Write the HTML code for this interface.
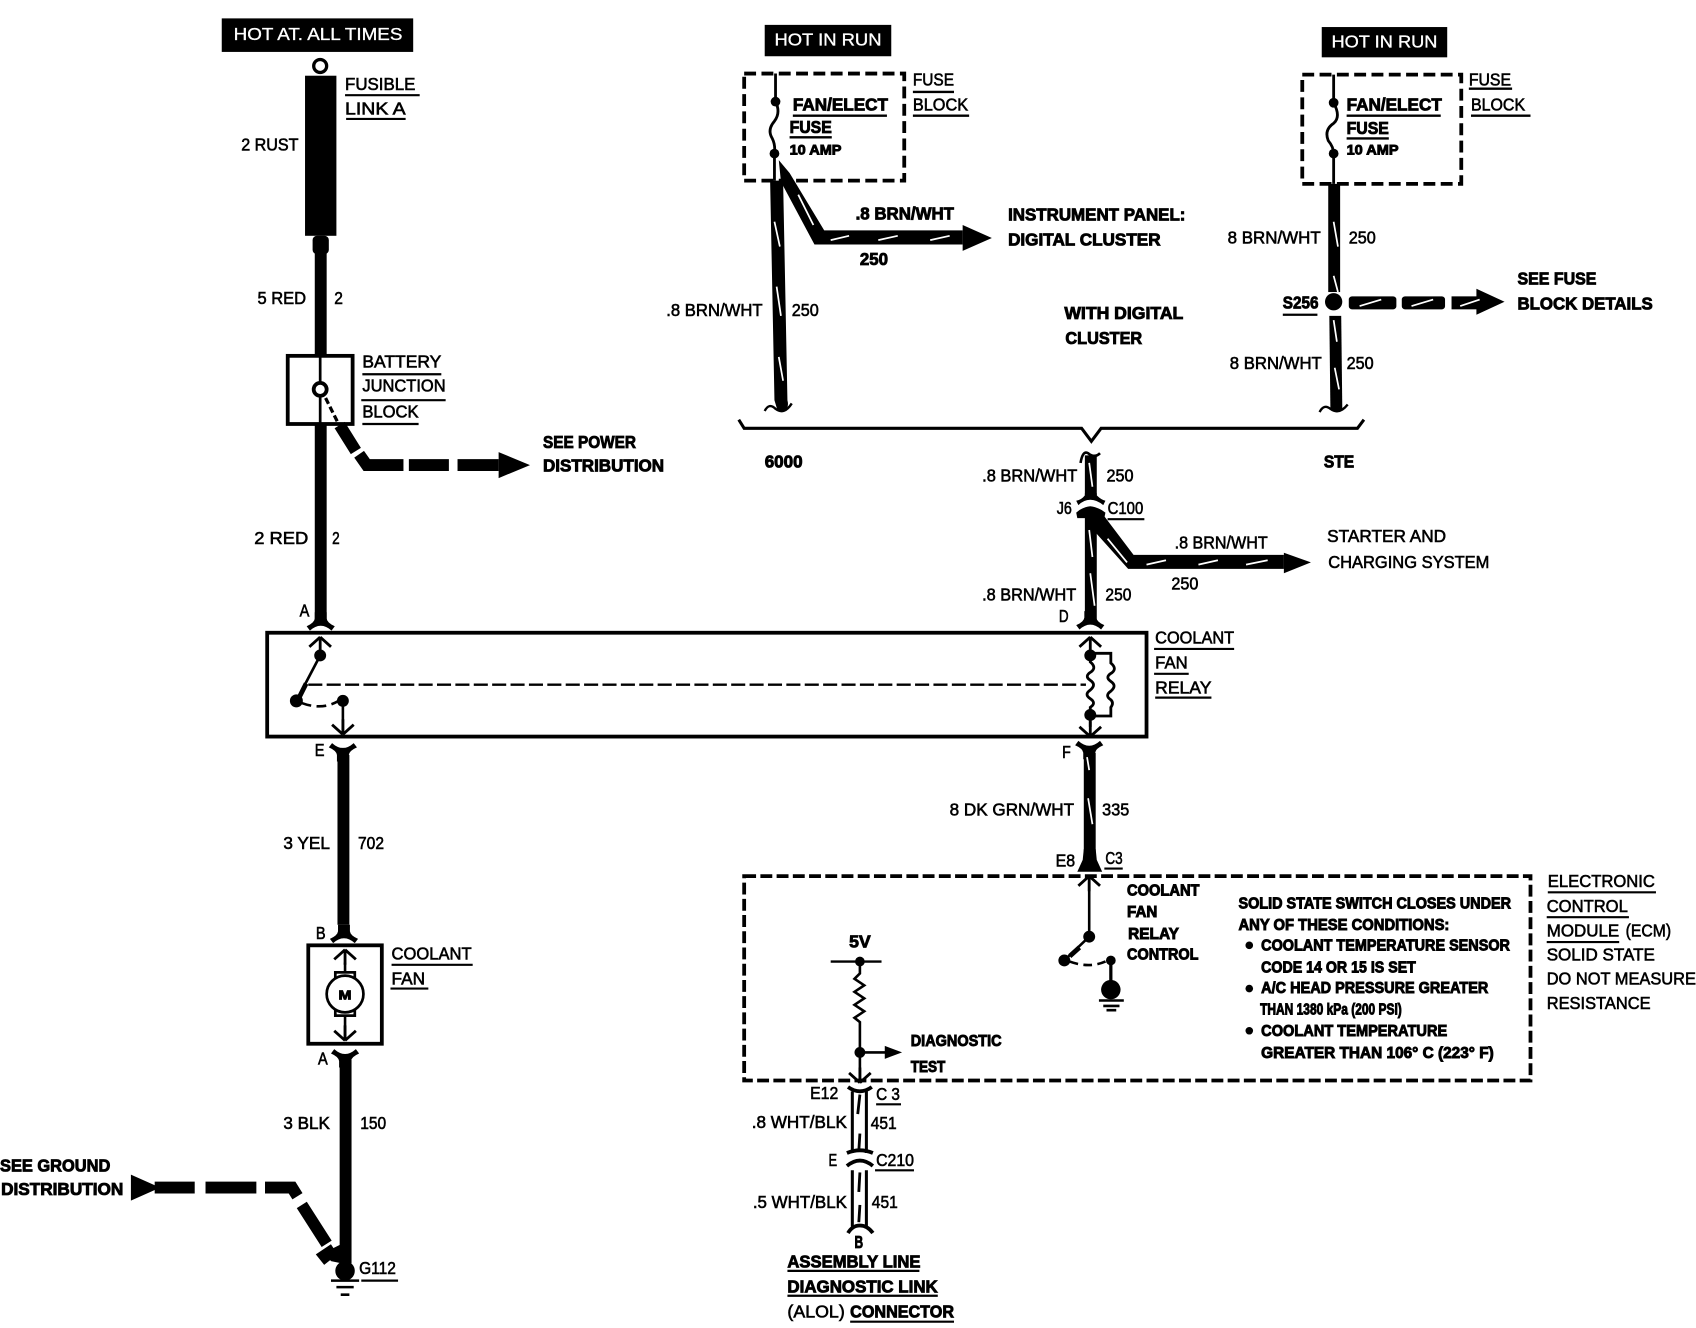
<!DOCTYPE html>
<html><head><meta charset="utf-8"><title>Coolant fan wiring diagram</title>
<style>
html,body{margin:0;padding:0;background:#fff;width:1696px;height:1328px;overflow:hidden}
svg{display:block}
text{font-family:"Liberation Sans",sans-serif;font-size:16px;fill:#000;font-weight:normal;stroke:#000;stroke-width:.55}
.b{font-weight:bold;stroke-width:.8}
.s{font-size:14.500px;font-weight:bold;stroke-width:.85}
.w{fill:#fff;stroke:#fff;stroke-width:.3}
.ln{stroke:#000;fill:none}
.st{stroke:#fff;stroke-width:1.600;fill:none}
</style></head><body>
<svg xmlns="http://www.w3.org/2000/svg" width="1696" height="1328" viewBox="0 0 1568 1227.8">
<defs>
<path id="fd" d="M-5.5,-10 L-5.5,-4 Q-6,0 -13,3 L-10,7 Q-5,2.500 0,2.500 Q5,2.500 10,7 L13,3 Q6,0 5.500,-4 L5.500,-10Z"/>
<path id="fu" d="M-5.5,10 L-5.500,4 Q-6,0 -13,-3 L-10,-7 Q-5,-2.500 0,-2.500 Q5,-2.500 10,-7 L13,-3 Q6,0 5.500,4 L5.500,10Z"/>
<path id="cu" d="M0,0 L-10,9 M0,0 L10,9 M0,0 V14" fill="none" stroke="#000" stroke-width="2.600"/>
<path id="cd" d="M0,0 L-10,-9 M0,0 L10,-9 M0,0 V-14" fill="none" stroke="#000" stroke-width="2.600"/>
</defs>
<rect width="1568" height="1227.800" fill="#fff"/>

<!-- Left column -->
<rect x="205" y="17" width="177" height="31"/>
<text class="w" x="216" y="37" textLength="156" lengthAdjust="spacingAndGlyphs">HOT AT. ALL TIMES</text>
<circle cx="296" cy="61" r="6" class="ln" stroke-width="3"/>
<rect x="282" y="70" width="29" height="148"/>
<rect x="289" y="218" width="15" height="17" rx="4"/>
<rect x="291" y="230" width="11" height="100"/>
<text x="319" y="83" textLength="65" lengthAdjust="spacingAndGlyphs">FUSIBLE</text>
<path class="ln" stroke-width="2" d="M319,88H388M320,110H375"/>
<text x="319" y="106" textLength="56" lengthAdjust="spacingAndGlyphs">LINK A</text>
<text x="223" y="139" textLength="53" lengthAdjust="spacingAndGlyphs">2 RUST</text>
<text x="238" y="281" textLength="45" lengthAdjust="spacingAndGlyphs">5 RED</text>
<text x="309" y="281" textLength="8" lengthAdjust="spacingAndGlyphs">2</text>
<rect x="266" y="329" width="60" height="63" fill="#fff" stroke="#000" stroke-width="3.500"/>
<path class="ln" stroke-width="2.500" d="M296,329V353M296,367V392"/>
<circle cx="296" cy="360" r="6" fill="#fff" stroke="#000" stroke-width="3.500"/>
<path class="ln" stroke-width="3" d="M301,368L312,390" stroke-dasharray="6 3"/>
<text x="335" y="340" textLength="73" lengthAdjust="spacingAndGlyphs">BATTERY</text>
<text x="335" y="362" textLength="77" lengthAdjust="spacingAndGlyphs">JUNCTION</text>
<text x="335" y="386" textLength="52" lengthAdjust="spacingAndGlyphs">BLOCK</text>
<path class="ln" stroke-width="2" d="M335,346H408M334,370H412M335,392H387"/>
<path class="ln" stroke-width="11" d="M314,393L329,417M332,420L339,430H373M378,430H415M423,430H461"/>
<path d="M461,418L490,430L461,442Z"/>
<text class="b" x="502" y="414" textLength="86" lengthAdjust="spacingAndGlyphs">SEE POWER</text>
<text class="b" x="502" y="436" textLength="112" lengthAdjust="spacingAndGlyphs">DISTRIBUTION</text>
<rect x="291" y="392" width="11" height="183"/>
<text x="235" y="503" textLength="50" lengthAdjust="spacingAndGlyphs">2 RED</text>
<text x="307" y="503" textLength="7" lengthAdjust="spacingAndGlyphs">2</text>
<text x="277" y="570" textLength="9" lengthAdjust="spacingAndGlyphs">A</text>
<use href="#fd" x="296.500" y="576"/>

<!-- Relay -->
<rect x="247" y="585" width="813" height="96" fill="none" stroke="#000" stroke-width="3.500"/>
<use href="#cu" x="296" y="589"/>
<path class="ln" stroke-width="2.500" d="M296,603V606L274,648"/>
<path class="ln" stroke-width="4.500" d="M283,632L276,646"/>
<circle cx="296" cy="606" r="5.500"/><circle cx="274" cy="648" r="6"/>
<path class="ln" stroke-width="2.200" stroke-dasharray="13 4" d="M285,633H1004"/>
<path class="ln" stroke-width="2.400" stroke-dasharray="9 5" d="M279,650Q298,657 313,648"/>
<circle cx="317" cy="648" r="5.500"/>
<path class="ln" stroke-width="2.400" d="M317,650V678"/>
<use href="#cd" x="317" y="679"/>
<text x="291" y="699" textLength="9" lengthAdjust="spacingAndGlyphs">E</text>
<use href="#fu" x="317" y="694"/>
<rect x="312" y="698" width="11" height="157"/>
<text x="262" y="785" textLength="43" lengthAdjust="spacingAndGlyphs">3 YEL</text>
<text x="331" y="785" textLength="24" lengthAdjust="spacingAndGlyphs">702</text>
<text x="292" y="868" textLength="9" lengthAdjust="spacingAndGlyphs">B</text>
<use href="#fd" x="318" y="865"/>

<!-- Motor -->
<rect x="285" y="874" width="68" height="91" fill="none" stroke="#000" stroke-width="3.500"/>
<use href="#cu" x="319" y="878"/>
<path class="ln" stroke-width="2.400" d="M319,890V905M319,934V961"/>
<rect x="310" y="899" width="18" height="8" fill="#fff" stroke="#000" stroke-width="2.500"/>
<rect x="310" y="931" width="18" height="8" fill="#fff" stroke="#000" stroke-width="2.500"/>
<circle cx="319" cy="919" r="17" fill="#fff" stroke="#000" stroke-width="2.500"/>
<text class="b" x="313" y="924" style="font-size:12px" textLength="12" lengthAdjust="spacingAndGlyphs">M</text>
<use href="#cd" x="319" y="962"/>
<text x="294" y="984" textLength="9" lengthAdjust="spacingAndGlyphs">A</text>
<use href="#fu" x="319" y="977"/>
<rect x="314" y="980" width="11" height="188"/>
<text x="362" y="887" textLength="74" lengthAdjust="spacingAndGlyphs">COOLANT</text>
<text x="362" y="910" textLength="31" lengthAdjust="spacingAndGlyphs">FAN</text>
<path class="ln" stroke-width="2" d="M362,892H437M361,914H396"/>
<text x="262" y="1044" textLength="43" lengthAdjust="spacingAndGlyphs">3 BLK</text>
<text x="333" y="1044" textLength="24" lengthAdjust="spacingAndGlyphs">150</text>
<text class="b" x="0" y="1083" textLength="102" lengthAdjust="spacingAndGlyphs">SEE GROUND</text>
<text class="b" x="1" y="1105" textLength="113" lengthAdjust="spacingAndGlyphs">DISTRIBUTION</text>
<path d="M121,1086L148,1098L121,1110Z"/>
<path class="ln" stroke-width="11" d="M143,1098H180M190,1098H237M245,1098H270L275,1106M279,1114L302,1150M309,1155L300,1161L304,1166"/>
<path d="M300,1158L316,1150L316,1168L306,1166Z"/>
<circle cx="319" cy="1175" r="9"/>
<path class="ln" stroke-width="2.400" d="M306,1184H332M311,1190H327M315,1197H323"/>
<text x="332" y="1178" textLength="34" lengthAdjust="spacingAndGlyphs">G112</text>
<path class="ln" stroke-width="2" d="M334,1184H368"/>

<!-- Left fuse block -->
<rect x="707" y="23" width="117" height="29"/>
<text class="w" x="716" y="42" textLength="99" lengthAdjust="spacingAndGlyphs">HOT IN RUN</text>
<rect x="688" y="68" width="148" height="99" fill="none" stroke="#000" stroke-width="3.500" stroke-dasharray="11 5"/>
<path class="ln" stroke-width="2.600" d="M717,68V94Q722,104 716,112Q709,120 714,128Q717,134 716,142V167"/>
<circle cx="717" cy="94" r="4.500"/><circle cx="716" cy="142" r="4.500"/>
<text class="b" x="733" y="102" textLength="88" lengthAdjust="spacingAndGlyphs">FAN/ELECT</text>
<text class="b" x="730" y="123" textLength="39" lengthAdjust="spacingAndGlyphs">FUSE</text>
<text class="s" x="730" y="143" textLength="48" lengthAdjust="spacingAndGlyphs" style="font-size:13px">10 AMP</text>
<path class="ln" stroke-width="2.200" d="M733,107H820M730,127H769"/>
<text x="844" y="79" textLength="38" lengthAdjust="spacingAndGlyphs">FUSE</text>
<text x="844" y="102" textLength="51" lengthAdjust="spacingAndGlyphs">BLOCK</text>
<path class="ln" stroke-width="2.200" d="M844,85H882M844,107H896"/>
<path d="M712,167H724L728,370Q730,378 724,380H719L716,370Z"/>
<path class="ln" stroke-width="2.200" d="M707,380Q711,372 717,378Q725,384 732,373"/>
<path class="st" d="M716,205L721,228M718,265L722,292M720,330L724,352"/>
<path d="M720,148L730,160L762,213H890V226H753L722,168Z"/>
<path d="M890,208L917,220L890,232Z"/>
<path class="st" d="M768,222L785,218M812,222L830,218M860,222L878,218M738,180L752,208"/>
<text class="b" x="791" y="203" textLength="91" lengthAdjust="spacingAndGlyphs">.8 BRN/WHT</text>
<text class="b" x="795" y="245" textLength="26" lengthAdjust="spacingAndGlyphs">250</text>
<text class="b" x="932" y="204" textLength="164" lengthAdjust="spacingAndGlyphs">INSTRUMENT PANEL:</text>
<text class="b" x="932" y="227" textLength="141" lengthAdjust="spacingAndGlyphs">DIGITAL CLUSTER</text>
<text class="b" x="984" y="295" textLength="110" lengthAdjust="spacingAndGlyphs">WITH DIGITAL</text>
<text class="b" x="985" y="318" textLength="71" lengthAdjust="spacingAndGlyphs">CLUSTER</text>
<text x="616" y="292" textLength="89" lengthAdjust="spacingAndGlyphs">.8 BRN/WHT</text>
<text x="732" y="292" textLength="25" lengthAdjust="spacingAndGlyphs">250</text>

<!-- Brace -->
<path class="ln" stroke-width="2.800" d="M683,388L688,396H1000L1009,408L1018,396H1255L1261,388"/>
<text class="b" x="707" y="432" textLength="35" lengthAdjust="spacingAndGlyphs">6000</text>
<text class="b" x="1224" y="432" textLength="28" lengthAdjust="spacingAndGlyphs">STE</text>

<!-- Right fuse block -->
<rect x="1222" y="25" width="116" height="28"/>
<text class="w" x="1231" y="44" textLength="98" lengthAdjust="spacingAndGlyphs">HOT IN RUN</text>
<rect x="1204" y="69" width="147" height="101" fill="none" stroke="#000" stroke-width="3.500" stroke-dasharray="11 5"/>
<path class="ln" stroke-width="2.600" d="M1233,69V95Q1240,108 1233,114Q1224,120 1228,130Q1233,136 1233,142V170"/>
<circle cx="1233" cy="95" r="4.500"/><circle cx="1233" cy="142" r="4.500"/>
<text class="b" x="1245" y="102" textLength="88" lengthAdjust="spacingAndGlyphs">FAN/ELECT</text>
<text class="b" x="1245" y="124" textLength="39" lengthAdjust="spacingAndGlyphs">FUSE</text>
<text class="s" x="1245" y="143" textLength="48" lengthAdjust="spacingAndGlyphs" style="font-size:13px">10 AMP</text>
<path class="ln" stroke-width="2.200" d="M1245,107H1332M1245,128H1284"/>
<text x="1358" y="79" textLength="39" lengthAdjust="spacingAndGlyphs">FUSE</text>
<text x="1360" y="102" textLength="50" lengthAdjust="spacingAndGlyphs">BLOCK</text>
<path class="ln" stroke-width="2.200" d="M1358,82H1398M1360,107H1415"/>
<rect x="1228" y="170" width="11" height="100"/>
<path class="st" d="M1233,205L1237,228M1233,255L1237,270"/>
<text x="1135" y="225" textLength="86" lengthAdjust="spacingAndGlyphs">8 BRN/WHT</text>
<text x="1247" y="225" textLength="25" lengthAdjust="spacingAndGlyphs">250</text>
<circle cx="1233" cy="279" r="8"/>
<text class="b" x="1186" y="285" textLength="33" lengthAdjust="spacingAndGlyphs">S256</text>
<path class="ln" stroke-width="2" d="M1186,291H1218"/>
<rect x="1247" y="274" width="44" height="12" rx="3"/>
<rect x="1296" y="274" width="40" height="12" rx="3"/>
<rect x="1342" y="274" width="25" height="12"/>
<path d="M1365,267L1391,279L1365,291Z"/>
<path class="st" d="M1257,283L1277,277M1305,283L1325,277M1350,283L1368,277"/>
<text class="b" x="1403" y="263" textLength="73" lengthAdjust="spacingAndGlyphs">SEE FUSE</text>
<text class="b" x="1403" y="286" textLength="125" lengthAdjust="spacingAndGlyphs">BLOCK DETAILS</text>
<path d="M1229,292H1240L1241,378Q1240,382 1234,380L1230,378Z"/>
<path class="ln" stroke-width="2.200" d="M1220,381Q1224,373 1230,378Q1238,384 1246,374"/>
<path class="st" d="M1233,296L1236,316M1234,340L1238,360"/>
<text x="1137" y="341" textLength="85" lengthAdjust="spacingAndGlyphs">8 BRN/WHT</text>
<text x="1245" y="341" textLength="25" lengthAdjust="spacingAndGlyphs">250</text>

<!-- Center wires -->
<path d="M1003,421H1014V458H1003Z"/>
<path class="ln" stroke-width="2.400" d="M999,428Q1001,416 1006,419Q1012,424 1017,419"/>
<path class="st" d="M1007,428L1010,450"/>
<text x="908" y="445" textLength="88" lengthAdjust="spacingAndGlyphs">.8 BRN/WHT</text>
<text x="1023" y="445" textLength="25" lengthAdjust="spacingAndGlyphs">250</text>
<path d="M1003,456H1014L1014,458Q1018,462 1022,463L1020,467Q1014,462 1008,462Q1002,462 997,467L995,463Q1000,462 1003,458Z"/>
<path d="M995,474Q1000,469 1008,468Q1016,469 1022,474L1021,479H996Z"/>
<text x="977" y="475" textLength="14" lengthAdjust="spacingAndGlyphs">J6</text>
<text x="1024" y="475" textLength="33" lengthAdjust="spacingAndGlyphs">C100</text>
<path class="ln" stroke-width="2" d="M1024,480H1058"/>
<rect x="1003" y="476" width="11" height="100"/>
<path d="M1008,476L1020,476L1048,513H1187V526H1043L1009,488Z"/>
<path d="M1187,511L1212,520L1187,530Z"/>
<path class="st" d="M1007,490L1010,515M1008,530L1012,560M1024,498L1042,520M1060,522L1078,518M1108,522L1126,518M1152,522L1172,518"/>
<text x="1086" y="507" textLength="86" lengthAdjust="spacingAndGlyphs">.8 BRN/WHT</text>
<text x="1083" y="545" textLength="25" lengthAdjust="spacingAndGlyphs">250</text>
<text x="1227" y="501" textLength="110" lengthAdjust="spacingAndGlyphs">STARTER AND</text>
<text x="1228" y="525" textLength="149" lengthAdjust="spacingAndGlyphs">CHARGING SYSTEM</text>
<text x="908" y="555" textLength="87" lengthAdjust="spacingAndGlyphs">.8 BRN/WHT</text>
<text x="1022" y="555" textLength="24" lengthAdjust="spacingAndGlyphs">250</text>
<text x="979" y="575" textLength="9" lengthAdjust="spacingAndGlyphs">D</text>
<use href="#fd" x="1008" y="575"/>
<text x="1068" y="595" textLength="73" lengthAdjust="spacingAndGlyphs">COOLANT</text>
<text x="1068" y="618" textLength="30" lengthAdjust="spacingAndGlyphs">FAN</text>
<text x="1068" y="641" textLength="52" lengthAdjust="spacingAndGlyphs">RELAY</text>
<path class="ln" stroke-width="2" d="M1067,600H1141M1067,623H1099M1068,645H1120"/>
<use href="#cu" x="1008" y="589"/>
<circle cx="1008" cy="606" r="5.500"/><circle cx="1008" cy="661" r="5.500"/>
<path class="ln" stroke-width="2.600" d="M1008,606V612Q1014,617 1009,621Q1002,625 1008,629Q1014,633 1008,638Q1002,642 1008,646Q1014,650 1008,654V672"/>
<path class="ln" stroke-width="2.600" d="M1008,604H1027V613Q1033,618 1028,622Q1021,626 1027,630Q1033,634 1027,639Q1021,643 1027,647Q1030,650 1027,654V662H1008"/>
<use href="#cd" x="1008" y="681"/>
<use href="#fu" x="1007" y="692"/>
<text x="982" y="701" textLength="8" lengthAdjust="spacingAndGlyphs">F</text>
<rect x="1002" y="696" width="11" height="95"/>
<path class="st" d="M1005,700L1007,712M1006,738L1010,762"/>
<text x="878" y="754" textLength="115" lengthAdjust="spacingAndGlyphs">8 DK GRN/WHT</text>
<text x="1019" y="754" textLength="25" lengthAdjust="spacingAndGlyphs">335</text>
<text x="976" y="801" textLength="18" lengthAdjust="spacingAndGlyphs">E8</text>
<text x="1022" y="799" textLength="16" lengthAdjust="spacingAndGlyphs">C3</text>
<path class="ln" stroke-width="2" d="M1021,803H1038"/>
<path d="M1002,785H1013L1014,795L1019,806H996L1001,795Z"/>

<!-- ECM -->
<rect x="688" y="810" width="727" height="189" fill="none" stroke="#000" stroke-width="3.500" stroke-dasharray="11 4"/>
<use href="#cu" x="1007" y="810"/>
<path class="ln" stroke-width="2.400" d="M1007,815V866L984,888"/>
<path class="ln" stroke-width="4.500" d="M998,876L989,884"/>
<circle cx="1007" cy="866" r="5.500"/><circle cx="984" cy="888" r="5.500"/>
<path class="ln" stroke-width="2.400" stroke-dasharray="8 5" d="M989,889Q1008,896 1024,888"/>
<circle cx="1027" cy="888" r="4.500"/>
<path class="ln" stroke-width="3" d="M1027,890V908"/>
<circle cx="1027" cy="915" r="9"/>
<path class="ln" stroke-width="2.400" d="M1016,925H1039M1020,930H1035M1023,934H1032"/>
<text class="s" x="1042" y="828" textLength="67" lengthAdjust="spacingAndGlyphs">COOLANT</text>
<text class="s" x="1042" y="848" textLength="28" lengthAdjust="spacingAndGlyphs">FAN</text>
<text class="s" x="1043" y="868" textLength="47" lengthAdjust="spacingAndGlyphs">RELAY</text>
<text class="s" x="1042" y="887" textLength="66" lengthAdjust="spacingAndGlyphs">CONTROL</text>
<text class="s" x="1145" y="840" textLength="252" lengthAdjust="spacingAndGlyphs">SOLID STATE SWITCH CLOSES UNDER</text>
<text class="s" x="1145" y="860" textLength="195" lengthAdjust="spacingAndGlyphs">ANY OF THESE CONDITIONS:</text>
<circle cx="1155" cy="874" r="3.500"/>
<text class="s" x="1166" y="879" textLength="230" lengthAdjust="spacingAndGlyphs">COOLANT TEMPERATURE SENSOR</text>
<text class="s" x="1166" y="899" textLength="143" lengthAdjust="spacingAndGlyphs">CODE 14 OR 15 IS SET</text>
<circle cx="1155" cy="914" r="3.500"/>
<text class="s" x="1166" y="918" textLength="210" lengthAdjust="spacingAndGlyphs">A/C HEAD PRESSURE GREATER</text>
<text class="s" x="1165" y="938" textLength="131" lengthAdjust="spacingAndGlyphs">THAN 1380 kPa (200 PSI)</text>
<circle cx="1155" cy="953" r="3.500"/>
<text class="s" x="1166" y="958" textLength="172" lengthAdjust="spacingAndGlyphs">COOLANT TEMPERATURE</text>
<text class="s" x="1166" y="978" textLength="215" lengthAdjust="spacingAndGlyphs">GREATER THAN 106° C (223° F)</text>
<text x="1431" y="820" textLength="99" lengthAdjust="spacingAndGlyphs">ELECTRONIC</text>
<text x="1430" y="843" textLength="75" lengthAdjust="spacingAndGlyphs">CONTROL</text>
<text x="1430" y="866" textLength="67" lengthAdjust="spacingAndGlyphs">MODULE</text>
<text x="1503" y="866" textLength="42" lengthAdjust="spacingAndGlyphs">(ECM)</text>
<text x="1430" y="888" textLength="100" lengthAdjust="spacingAndGlyphs">SOLID STATE</text>
<text x="1430" y="910" textLength="138" lengthAdjust="spacingAndGlyphs">DO NOT MEASURE</text>
<text x="1430" y="933" textLength="96" lengthAdjust="spacingAndGlyphs">RESISTANCE</text>
<path class="ln" stroke-width="2" d="M1431,825H1531M1430,848H1506M1430,871H1497"/>

<!-- 5V / Diagnostic -->
<text class="b" x="785" y="876" textLength="20" lengthAdjust="spacingAndGlyphs">5V</text>
<path class="ln" stroke-width="2.200" d="M768,889H815"/>
<circle cx="795" cy="889" r="4.500"/><circle cx="795" cy="973" r="5"/>
<path class="ln" stroke-width="2.400" d="M795,889V900L790,905L799,911L790,917L799,923L790,929L799,935L790,941L795,945V1000M795,973H820"/>
<path d="M818,967L834,973L818,979Z"/>
<text class="s" x="842" y="967" textLength="84" lengthAdjust="spacingAndGlyphs">DIAGNOSTIC</text>
<text class="s" x="842" y="991" textLength="32" lengthAdjust="spacingAndGlyphs">TEST</text>
<use href="#cd" x="795" y="1001"/>
<path class="ln" stroke-width="3.500" d="M784,1005Q795,1013 806,1005"/>
<path class="ln" stroke-width="2.800" d="M788,1009V1066M801,1009V1066M788,1082V1134M801,1082V1134"/>
<path class="ln" stroke-width="2.600" d="M795,1012L793,1030M795,1048L794,1064M795,1084L794,1102M795,1114L794,1130"/>
<path class="ln" stroke-width="3.500" d="M783,1066Q795,1061 807,1066M783,1078Q795,1068 807,1078"/>
<path class="ln" stroke-width="3.500" d="M784,1140Q788,1133 795,1133Q802,1133 807,1140"/>
<text x="749" y="1016" textLength="26" lengthAdjust="spacingAndGlyphs">E12</text>
<text x="810" y="1017" textLength="22" lengthAdjust="spacingAndGlyphs">C 3</text>
<text x="695" y="1043" textLength="88" lengthAdjust="spacingAndGlyphs">.8 WHT/BLK</text>
<text x="805" y="1044" textLength="24" lengthAdjust="spacingAndGlyphs">451</text>
<text x="766" y="1078" textLength="8" lengthAdjust="spacingAndGlyphs">E</text>
<text x="810" y="1078" textLength="35" lengthAdjust="spacingAndGlyphs">C210</text>
<text x="696" y="1117" textLength="87" lengthAdjust="spacingAndGlyphs">.5 WHT/BLK</text>
<text x="806" y="1117" textLength="24" lengthAdjust="spacingAndGlyphs">451</text>
<text class="b" x="790" y="1154" textLength="8" lengthAdjust="spacingAndGlyphs">B</text>
<path class="ln" stroke-width="2" d="M810,1021H833M809,1082H845"/>
<text class="b" x="728" y="1172" textLength="123" lengthAdjust="spacingAndGlyphs">ASSEMBLY LINE</text>
<text class="b" x="728" y="1195" textLength="139" lengthAdjust="spacingAndGlyphs">DIAGNOSTIC LINK</text>
<text x="728" y="1218" textLength="53" lengthAdjust="spacingAndGlyphs">(ALOL)</text>
<text class="b" x="786" y="1218" textLength="96" lengthAdjust="spacingAndGlyphs">CONNECTOR</text>
<path class="ln" stroke-width="2" d="M728,1175H850M728,1198H867M786,1222H882"/>
</svg>
</body></html>
